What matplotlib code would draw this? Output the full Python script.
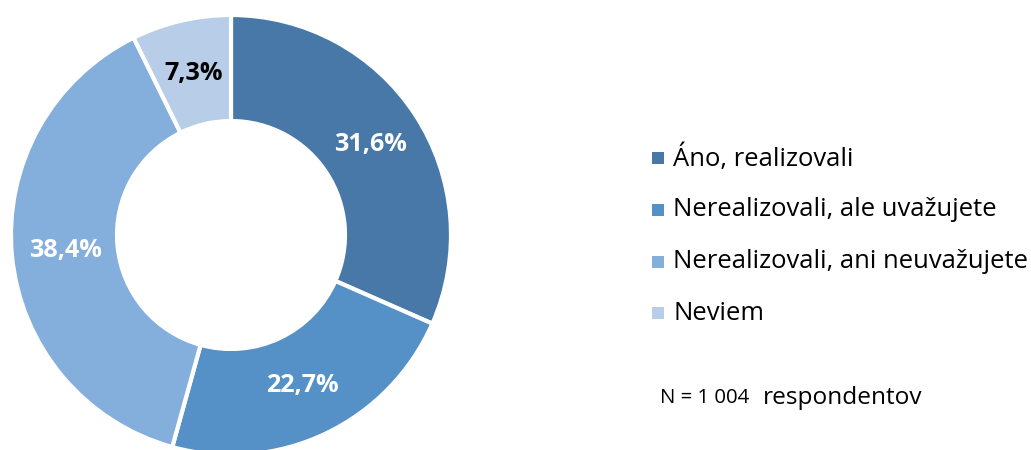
import matplotlib
matplotlib.use("Agg")
import matplotlib.pyplot as plt
from matplotlib.patches import Rectangle

plt.rcParams['font.family'] = ['Open Sans', 'DejaVu Sans']

categories = ["Áno, realizovali", "Nerealizovali, ale uvažujete",
              "Nerealizovali, ani neuvažujete", "Neviem"]
values = [31.6, 22.7, 38.4, 7.3]
colors = ["#4778a8", "#5590c6", "#84aedb", "#b8cde8"]
label_colors = ["white", "white", "white", "black"]
note_small = "N = 1 004"
note_big = "respondentov"

W, H = 1031, 450
fig = plt.figure(figsize=(W / 100, H / 100), dpi=100)

cx, cy, R = 231, 235, 220
ax = fig.add_axes([(cx - R) / W, (H - cy - R) / H, 2 * R / W, 2 * R / H])

wedges, texts, autotexts = ax.pie(
    values, colors=colors, startangle=90, counterclock=False,
    radius=1.0, pctdistance=0.755,
    autopct=lambda p: f"{p:.1f}%".replace(".", ","),
    wedgeprops=dict(width=1 - 114 / 220, edgecolor="white", linewidth=3),
)
for t, c in zip(autotexts, label_colors):
    t.set_color(c)
    t.set_fontsize(16)
    t.set_fontweight("bold")
for w in wedges:
    w.set_clip_on(False)
ax.set_xlim(-1, 1)
ax.set_ylim(-1, 1)
ax.set_aspect("equal")
ax.axis("off")

# legend
row_y = [158, 210, 262, 313]
leg_texts = []
for cat, col, y in zip(categories, colors, row_y):
    fig.patches.append(Rectangle(((652) / W, (H - y - 6) / H), 12 / W, 12 / H,
                                 transform=fig.transFigure, facecolor=col,
                                 edgecolor="none"))
    leg_texts.append(fig.text(673 / W, (H - y) / H, cat, fontsize=17,
                              va="center", ha="left", color="black"))

t1 = fig.text(660 / W, (H - 398) / H, note_small, fontsize=12.5, va="center",
              ha="left")
t2 = fig.text(763 / W, (H - 398) / H, note_big, fontsize=17, va="center",
              ha="left")

# fit font sizes to measured widths in the reference
fig.canvas.draw()
r = fig.canvas.get_renderer()
w_leg = leg_texts[2].get_window_extent(r).width
for t in leg_texts:
    t.set_fontsize(17 * 355 / w_leg)
w_lab = autotexts[0].get_window_extent(r).width
for t in autotexts:
    t.set_fontsize(16 * 73 / w_lab)
w_n = t1.get_window_extent(r).width
t1.set_fontsize(12.5 * 90 / w_n)
w_r = t2.get_window_extent(r).width
t2.set_fontsize(17 * 159 / w_r)

fig.savefig("out.png", dpi=100)
